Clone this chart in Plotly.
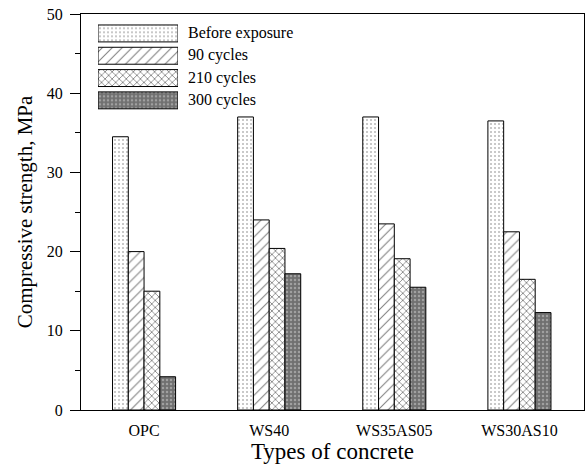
import plotly.graph_objects as go

categories = ["OPC", "WS40", "WS35AS05", "WS30AS10"]
series_names = ["Before exposure", "90 cycles", "210 cycles", "300 cycles"]
before_exposure = [34.5, 37.0, 37.0, 36.5]
cycles_90 = [20.0, 24.0, 23.5, 22.5]
cycles_210 = [15.0, 20.4, 19.1, 16.5]
cycles_300 = [4.2, 17.2, 15.5, 12.3]
y_ticks = [0, 10, 20, 30, 40, 50]

values = [before_exposure, cycles_90, cycles_210, cycles_300]
patterns = [
    dict(shape=".", fgcolor="#777777", bgcolor="white", size=4, solidity=0.22),
    dict(shape="/", fgcolor="black", bgcolor="white", size=7, solidity=0.15),
    dict(shape="x", fgcolor="black", bgcolor="white", size=5, solidity=0.3),
    dict(shape=".", fgcolor="#d0d0d0", bgcolor="#707070", size=4, solidity=0.3),
]

FONT = "Liberation Serif"
fig = go.Figure()
for name, vals, pat in zip(series_names, values, patterns):
    fig.add_trace(go.Bar(
        x=categories, y=vals, name=name,
        marker=dict(color="white", pattern=pat, line=dict(color="black", width=1)),
        showlegend=False,
    ))

# legend drawn as bars on a small auxiliary axis
for name, pat in zip(series_names, patterns):
    fig.add_trace(go.Bar(
        x=[1], y=[name], orientation="h", xaxis="x2", yaxis="y2",
        marker=dict(color="white", pattern=pat, line=dict(color="black", width=1)),
        showlegend=False, hoverinfo="skip", width=0.76,
    ))

H = 396.0
def py(y):
    return (410 - y) / H

for i, name in enumerate(series_names):
    fig.add_annotation(
        x=(186 - 81) / 503, y=py(33 + 22.3 * i), xref="paper", yref="paper",
        text=name, showarrow=False, xanchor="left", yanchor="middle",
        font=dict(family=FONT, size=16, color="black"),
    )

fig.update_layout(
    width=586, height=465,
    margin=dict(l=81, r=2, t=14, b=55),
    plot_bgcolor="white", paper_bgcolor="white",
    barmode="group", bargap=0.496, bargroupgap=0,
    font=dict(family=FONT, color="black"),
    xaxis=dict(
        range=[-0.504, 3.516], showline=True, linecolor="black", linewidth=1.2,
        mirror=True, ticks="", tickfont=dict(size=16, family=FONT),
        ticklabelstandoff=6,
        title=dict(text="Types of concrete", font=dict(size=23, family=FONT), standoff=0),
    ),
    yaxis=dict(
        range=[0, 50], tickvals=y_ticks, showline=True, linecolor="black",
        linewidth=1.2, mirror=True, ticks="outside", ticklen=10, tickcolor="black",
        showgrid=False, zeroline=False, tickfont=dict(size=16, family=FONT),
        ticklabelstandoff=4,
        minor=dict(dtick=5, ticks="outside", ticklen=5, tickcolor="black"),
        title=dict(text="Compressive strength, MPa", font=dict(size=21, family=FONT), standoff=8),
    ),
    xaxis2=dict(domain=[(98 - 81) / 503, (178 - 81) / 503], range=[0, 1],
                visible=False, anchor="y2"),
    yaxis2=dict(domain=[py(111.5), py(22.3)], range=[3.5, -0.5], visible=False,
                anchor="x2", type="category", categoryorder="array",
                categoryarray=series_names),
)

fig.write_html("out.html")
